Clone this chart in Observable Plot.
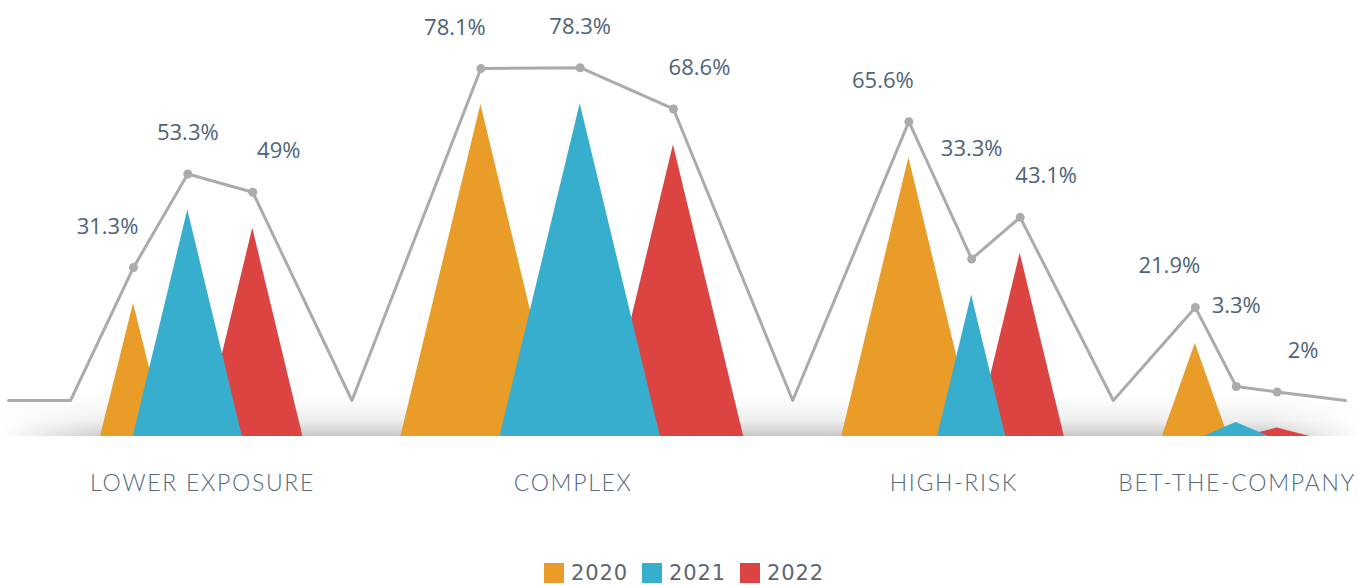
<!DOCTYPE html>
<html>
<head>
<meta charset="utf-8">
<script src="https://cdn.jsdelivr.net/npm/d3@7"></script>
<script src="https://cdn.jsdelivr.net/npm/@observablehq/plot@0.6"></script>
<style>
  body { margin: 0; background: #fff; }
  #chart { width: 1358px; }
  #legend { display: flex; justify-content: center; width: 1358px; padding-top: 11px; padding-left: 10px; box-sizing: border-box; }
  #legend > div { font-family: "DejaVu Sans", sans-serif !important; font-size: 21px !important; color: #5d6670 !important; margin: 0 !important; letter-spacing: 0.9px; }
  #legend span { margin-right: 14px !important; }
  #legend span:last-child { margin-right: 0 !important; }
  #legend span > svg { margin-right: 7px !important; }
</style>
</head>
<body>
<div id="chart"></div>
<div id="legend"></div>
<script>
// ---- data ----
const categories = ["LOWER EXPOSURE", "COMPLEX", "HIGH-RISK", "BET-THE-COMPANY"];
const years = ["2020", "2021", "2022"];
const v2020 = [31.3, 78.1, 65.6, 21.9];
const v2021 = [53.3, 78.3, 33.3, 3.3];
const v2022 = [49, 68.6, 43.1, 2];
const colors = ["#E99C27", "#38AECE", "#DB4441"];
const seriesValues = [v2020, v2021, v2022];

// ---- layout constants ----
const W = 1358, H = 545, BASE = 436, PX_PER_PCT = 4.25;
const START = 100, GAP = 98, OVERLAP = 0.62, MIN_HW = 33, HW_K = 1.024;
const LINE_START = 8, LINE_END = 1345, LEAD = 30, LINE_LIFT = 36;
const LABEL_DX = [-26, 0, 26];
const CAT_SPACING = 1.7;

// group layout derived from values
const layout = [];
let left = START;
categories.forEach((cat, g) => {
  const vals = seriesValues.map(s => s[g]);
  const hw = vals.map(v => Math.max(v * HW_K, MIN_HW));
  const apex = [left + hw[0]];
  apex[1] = apex[0] + OVERLAP * (hw[0] + hw[1]);
  apex[2] = apex[1] + OVERLAP * (hw[1] + hw[2]);
  const right = apex[2] + hw[2];
  layout.push({cat, left, right, center: (left + right) / 2 + CAT_SPACING / 2, vals, hw, apex});
  left = right + GAP;
});

// triangles per year
const triangles = years.map((yr, i) => layout.flatMap((L, g) => [
  {id: g, x: L.apex[i] - L.hw[i], y: 0},
  {id: g, x: L.apex[i], y: L.vals[i]},
  {id: g, x: L.apex[i] + L.hw[i], y: 0}
]));

// connecting line
const linePts = [{x: LINE_START, y: 0}];
layout.forEach((L, g) => {
  if (g === 0) linePts.push({x: L.left - LEAD, y: 0});
  else linePts.push({x: (layout[g - 1].right + L.left) / 2, y: 0});
  L.apex.forEach((a, i) => linePts.push({x: a, y: L.vals[i]}));
});
linePts.push({x: LINE_END, y: 0});

const dots = layout.flatMap(L => L.apex.map((a, i) => ({x: a, y: L.vals[i]})));

const labels = layout.flatMap(L => L.apex.map((a, i) => {
  let ly = L.vals[i];
  if (i === 1) ly = Math.max(ly, (L.vals[0] + L.vals[1]) / 2);
  return {x: a + LABEL_DX[i], y: ly, text: `${L.vals[i]}%`};
}));

const svg = Plot.plot({
  width: W,
  height: H,
  margin: 0,
  x: {domain: [0, W], range: [0, W], axis: null},
  y: {domain: [0, BASE / PX_PER_PCT], range: [BASE, 0], axis: null},
  style: {fontFamily: "'Open Sans', sans-serif", background: "#fff", overflow: "visible"},
  marks: [
    Plot.rect([0], {x1: 0, x2: W, y1: 0, y2: 40 / PX_PER_PCT, fill: "url(#shadowV)"}),
    Plot.rect([0], {x1: 0, x2: 110, y1: 0, y2: 40 / PX_PER_PCT, fill: "url(#fadeL)"}),
    Plot.rect([0], {x1: W - 90, x2: W, y1: 0, y2: 40 / PX_PER_PCT, fill: "url(#fadeR)"}),
    Plot.area(triangles[0], {x1: "x", y1: 0, y2: "y", z: "id", fill: colors[0], curve: "linear"}),
    Plot.area(triangles[2], {x1: "x", y1: 0, y2: "y", z: "id", fill: colors[2], curve: "linear"}),
    Plot.area(triangles[1], {x1: "x", y1: 0, y2: "y", z: "id", fill: colors[1], curve: "linear"}),
    Plot.line(linePts, {x: "x", y: "y", stroke: "#ABABAE", strokeWidth: 3, dy: -LINE_LIFT, curve: "linear"}),
    Plot.dot(dots, {x: "x", y: "y", r: 4.5, fill: "#ABABAE", stroke: "none", dy: -LINE_LIFT}),
    Plot.text(labels, {x: "x", y: "y", text: "text", dy: -LINE_LIFT - 41, fontSize: 22, fill: "#4d6479"}),
    Plot.text(layout, {x: "center", y: 0, text: "cat", dy: 47, fontSize: 23, fill: "#56697c"})
  ]
});

const defs = d3.select(svg).insert("defs", ":first-child");
const gv = defs.append("linearGradient").attr("id", "shadowV").attr("x1", 0).attr("y1", 0).attr("x2", 0).attr("y2", 1);
gv.append("stop").attr("offset", 0).attr("stop-color", "#c8c8c8").attr("stop-opacity", 0);
gv.append("stop").attr("offset", 0.6).attr("stop-color", "#c8c8c8").attr("stop-opacity", 0.3);
gv.append("stop").attr("offset", 1).attr("stop-color", "#c6c6c6").attr("stop-opacity", 0.95);
const gl = defs.append("linearGradient").attr("id", "fadeL").attr("x1", 0).attr("y1", 0).attr("x2", 1).attr("y2", 0);
gl.append("stop").attr("offset", 0).attr("stop-color", "#fff").attr("stop-opacity", 1);
gl.append("stop").attr("offset", 1).attr("stop-color", "#fff").attr("stop-opacity", 0);
const gr = defs.append("linearGradient").attr("id", "fadeR").attr("x1", 0).attr("y1", 0).attr("x2", 1).attr("y2", 0);
gr.append("stop").attr("offset", 0).attr("stop-color", "#fff").attr("stop-opacity", 0);
gr.append("stop").attr("offset", 1).attr("stop-color", "#fff").attr("stop-opacity", 1);

// category label typography
d3.select(svg).selectAll("text")
  .filter(function() { return categories.includes(this.textContent); })
  .style("font-family", "Lato, sans-serif").style("font-weight", "300").style("letter-spacing", CAT_SPACING + "px");

document.getElementById("chart").appendChild(svg);

const legend = Plot.legend({
  color: {type: "ordinal", domain: years, range: colors},
  legend: "swatches",
  swatchSize: 20
});
document.getElementById("legend").appendChild(legend);
</script>
</body>
</html>
